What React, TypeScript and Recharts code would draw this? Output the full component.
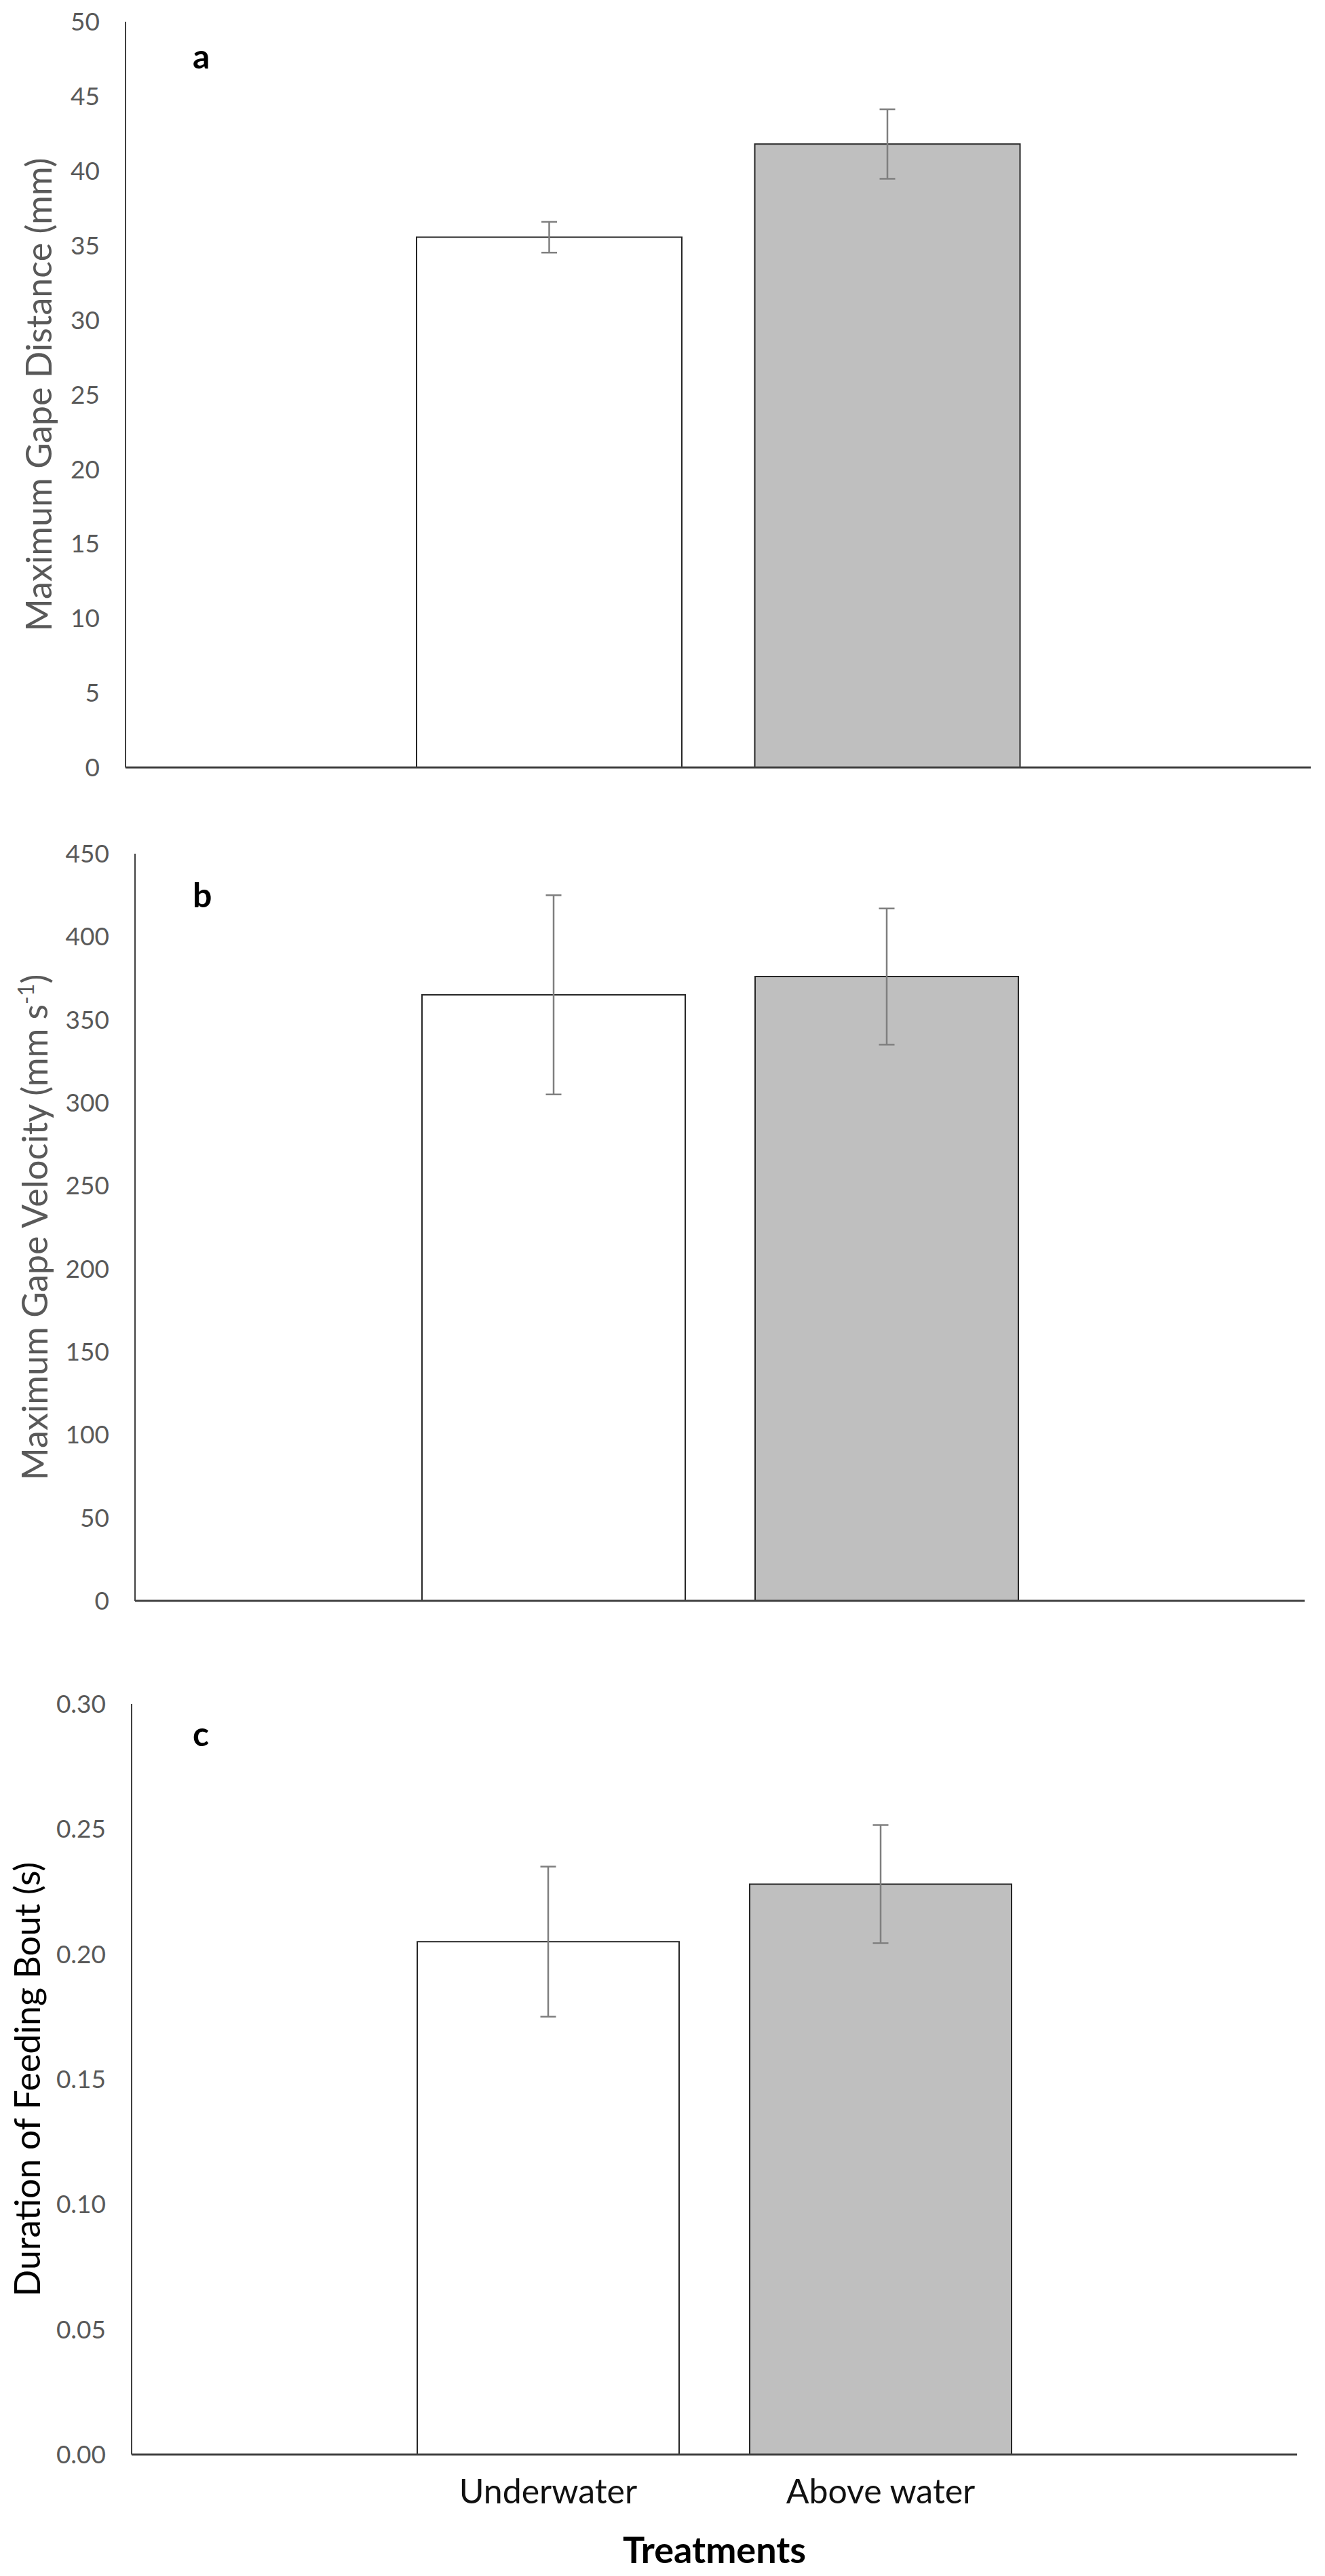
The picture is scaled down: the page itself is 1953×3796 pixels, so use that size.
import React from 'react';
import { BarChart, Bar, Cell, XAxis, YAxis, ErrorBar } from 'recharts';

const categories = ['Underwater', 'Above water'];
const barFills = ['#FFFFFF', '#BFBFBF'];

const gapeDistance = [35.55, 41.8];
const gapeDistanceErr = [1.03, 2.33];
const gapeVelocity = [365, 376];
const gapeVelocityErr = [60, 41];
const boutDuration = [0.205, 0.228];
const boutDurationErr = [0.03, 0.0236];

const distanceTicks = [0, 5, 10, 15, 20, 25, 30, 35, 40, 45, 50];
const velocityTicks = [0, 50, 100, 150, 200, 250, 300, 350, 400, 450];
const durationTicks = [0, 0.05, 0.1, 0.15, 0.2, 0.25, 0.3];

const FONT = 'Lato, "Open Sans", sans-serif';
const W = 1953;

const rows = (vals: number[], errs: number[]) =>
  categories.map((name, i) => ({ name, value: vals[i], err: errs[i] }));

type PanelProps = {
  top: number;
  height: number;
  plotTop: number;
  plotRight: number;
  yWidth: number;
  xHeight: number;
  pad: number;
  barSize: number;
  data: { name: string; value: number; err: number }[];
  ticks: number[];
  fmt?: (v: number) => string;
  title: string;
  sup?: string;
  titleX: number;
  titleColor: string;
  letter: string;
  letterY: number;
  showX?: boolean;
};

function Panel(p: PanelProps) {
  const yTitle = (props: any) => {
    const vb = props.viewBox;
    const cx = p.titleX;
    const cy = vb.y + vb.height / 2;
    return (
      <text
        x={cx}
        y={cy}
        dy="0.36em"
        transform={`rotate(-90 ${cx} ${cy})`}
        textAnchor="middle"
        fill={p.titleColor}
        fontSize={52}
        fontFamily={FONT}
      >
        {p.title}
        {p.sup ? (
          <>
            <tspan dy={-20} fontSize={32}>{p.sup}</tspan>
            <tspan dy={20}>)</tspan>
          </>
        ) : null}
      </text>
    );
  };

  const xTitle = (props: any) => {
    const vb = props.viewBox;
    return (
      <text
        x={vb.x + vb.width / 2}
        y={vb.y + vb.height - 19}
        textAnchor="middle"
        fill="#000"
        fontSize={54}
        fontWeight="bold"
        fontFamily={FONT}
      >
        Treatments
      </text>
    );
  };

  return (
    <div style={{ position: 'absolute', left: 0, top: p.top, width: W, height: p.height }}>
      <BarChart
        width={W}
        height={p.height}
        data={p.data}
        margin={{ top: p.plotTop, right: W - p.plotRight, bottom: 0, left: 0 }}
        barSize={p.barSize}
      >
        <XAxis
          dataKey="name"
          height={p.xHeight}
          padding={{ left: p.pad, right: p.pad }}
          axisLine={{ stroke: '#404040', strokeWidth: 3 }}
          tickLine={false}
          tickSize={0}
          tickMargin={36}
          tick={p.showX ? { fill: '#111', fontSize: 50, fontFamily: FONT } : false}
          label={p.showX ? xTitle : undefined}
          interval={0}
        />
        <YAxis
          width={p.yWidth}
          domain={[p.ticks[0], p.ticks[p.ticks.length - 1]]}
          ticks={p.ticks}
          tickFormatter={p.fmt}
          axisLine={{ stroke: '#404040', strokeWidth: 2 }}
          tickLine={false}
          tickSize={0}
          tickMargin={38}
          tick={{ fill: '#595959', fontSize: 37, fontFamily: FONT }}
          label={yTitle}
          allowDecimals
        />
        <Bar dataKey="value" stroke="#262626" strokeWidth={2} isAnimationActive={false}>
          {p.data.map((d, i) => (
            <Cell key={d.name} fill={barFills[i]} />
          ))}
          <ErrorBar dataKey="err" width={11.5} stroke="#7F7F7F" strokeWidth={2.5} isAnimationActive={false} />
        </Bar>
        <text x={284} y={p.letterY} fontSize={50} fontWeight="bold" fontFamily={FONT} fill="#000">
          {p.letter}
        </text>
      </BarChart>
    </div>
  );
}

export default function App() {
  return (
    <div style={{ position: 'absolute', left: 0, top: 0, width: W, height: 3796, background: '#fff', fontFamily: FONT }}>
      <Panel
        top={0}
        height={1200}
        plotTop={32}
        plotRight={1932}
        yWidth={185}
        xHeight={69}
        pad={375}
        barSize={391}
        data={rows(gapeDistance, gapeDistanceErr)}
        ticks={distanceTicks}
        title="Maximum Gape Distance (mm)"
        titleX={57}
        titleColor="#595959"
        letter="a"
        letterY={101}
      />
      <Panel
        top={1200}
        height={1200}
        plotTop={58}
        plotRight={1923}
        yWidth={199}
        xHeight={41}
        pad={371}
        barSize={388}
        data={rows(gapeVelocity, gapeVelocityErr)}
        ticks={velocityTicks}
        title="Maximum Gape Velocity (mm s"
        sup="-1"
        titleX={51}
        titleColor="#595959"
        letter="b"
        letterY={137}
      />
      <Panel
        top={2400}
        height={1396}
        plotTop={111}
        plotRight={1912}
        yWidth={194}
        xHeight={179}
        pad={369}
        barSize={386}
        data={rows(boutDuration, boutDurationErr)}
        ticks={durationTicks}
        fmt={(v: number) => v.toFixed(2)}
        title="Duration of Feeding Bout (s)"
        titleX={40}
        titleColor="#000"
        letter="c"
        letterY={173}
        showX
      />
    </div>
  );
}
